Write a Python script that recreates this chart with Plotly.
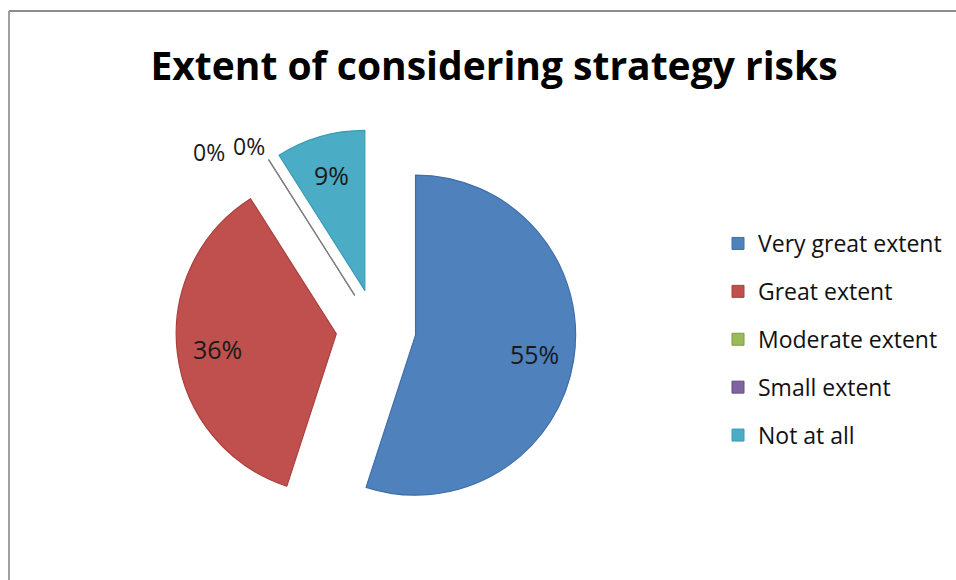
import numpy as np
import plotly.graph_objects as go

# Survey categories and their shares (%)
categories = ["Very great extent", "Great extent", "Moderate extent", "Small extent", "Not at all"]
shares = [55, 36, 0, 0, 9]

slice_colors = ["#4F81BD", "#C0504D", "#9BBB59", "#8064A2", "#4BACC6"]
edge_colors = ["#3F6FA8", "#A8403D", "#7F7F7F", "#7F7F7F", "#3A9BB5"]
legend_edges = ["#3F6FA8", "#A8403D", "#7E9C45", "#664F85", "#3A9BB5"]

W, H = 956, 580
PULL = 0.25
DOM_X = [0.1828, 0.6038]
DOM_Y = [0.088, 0.778]
FONT = "'Open Sans', Lato, sans-serif"

fig = go.Figure()

fig.add_trace(go.Pie(
    labels=categories,
    values=shares,
    sort=False,
    direction="clockwise",
    rotation=0,
    pull=[PULL] * len(shares),
    marker=dict(colors=slice_colors, line=dict(color=edge_colors, width=1.2)),
    textinfo="none",
    showlegend=False,
    domain=dict(x=DOM_X, y=DOM_Y),
    hoverinfo="label+percent",
))

# Percentage labels placed along each slice's bisector (clockwise from 12 o'clock)
cx = W * (DOM_X[0] + DOM_X[1]) / 2
cy = H * (1 - (DOM_Y[0] + DOM_Y[1]) / 2)
radius = min(W * (DOM_X[1] - DOM_X[0]), H * (DOM_Y[1] - DOM_Y[0])) / 2 / (1 + PULL)

total = float(sum(shares))
ends = np.cumsum(shares) / total * 360.0
starts = ends - np.array(shares) / total * 360.0
annotations = []
zero_idx = 0
for share, a0, a1 in zip(shares, starts, ends):
    mid = np.radians((a0 + a1) / 2)
    text = f"{share}%"
    if share > 0:
        dist = radius * (PULL + 0.75)
        px = cx + dist * np.sin(mid)
        py = cy - dist * np.cos(mid)
        size = 25
    else:
        # zero-width slices: labels sit side by side beyond the slice edge
        dist = radius * (1 + PULL)
        px = cx + dist * np.sin(mid) - 60 + 40 * zero_idx
        py = cy - dist * np.cos(mid) - 8 - 6 * zero_idx
        size = 23
        zero_idx += 1
    annotations.append(dict(
        x=px / W, y=1 - py / H, xref="paper", yref="paper",
        text=text, showarrow=False, xanchor="center", yanchor="middle",
        font=dict(family=FONT, size=size, color="#1A1A1A"),
    ))

# Legend entries, one group per category so they can be spaced apart
for name, col, edge in zip(categories, slice_colors, legend_edges):
    fig.add_trace(go.Scatter(
        x=[None], y=[None], mode="markers", name=name, legendgroup=name,
        marker=dict(symbol="square", size=12, color=col, line=dict(color=edge, width=1)),
    ))

fig.update_layout(
    width=W, height=H,
    margin=dict(l=0, r=0, t=0, b=0),
    paper_bgcolor="white",
    plot_bgcolor="white",
    xaxis=dict(visible=False),
    yaxis=dict(visible=False),
    title=dict(
        text="<b>Extent of considering strategy risks</b>",
        font=dict(family=FONT, size=39, color="#000000"),
        x=494 / W, xanchor="center", y=1 - 66 / H, yanchor="middle",
    ),
    legend=dict(
        x=718 / W, xanchor="left", y=1 - 222 / H, yanchor="top",
        font=dict(family=FONT, size=23, color="#111111"),
        tracegroupgap=15,
        bgcolor="rgba(0,0,0,0)",
    ),
    annotations=annotations,
    shapes=[
        dict(type="line", xref="paper", yref="paper", x0=9 / W, x1=1, y0=1 - 11 / H, y1=1 - 11 / H,
             line=dict(color="#8C8C8C", width=2)),
        dict(type="line", xref="paper", yref="paper", x0=9 / W, x1=9 / W, y0=0, y1=1 - 11 / H,
             line=dict(color="#A0A0A0", width=2)),
    ],
)

fig.write_html("out.html")
